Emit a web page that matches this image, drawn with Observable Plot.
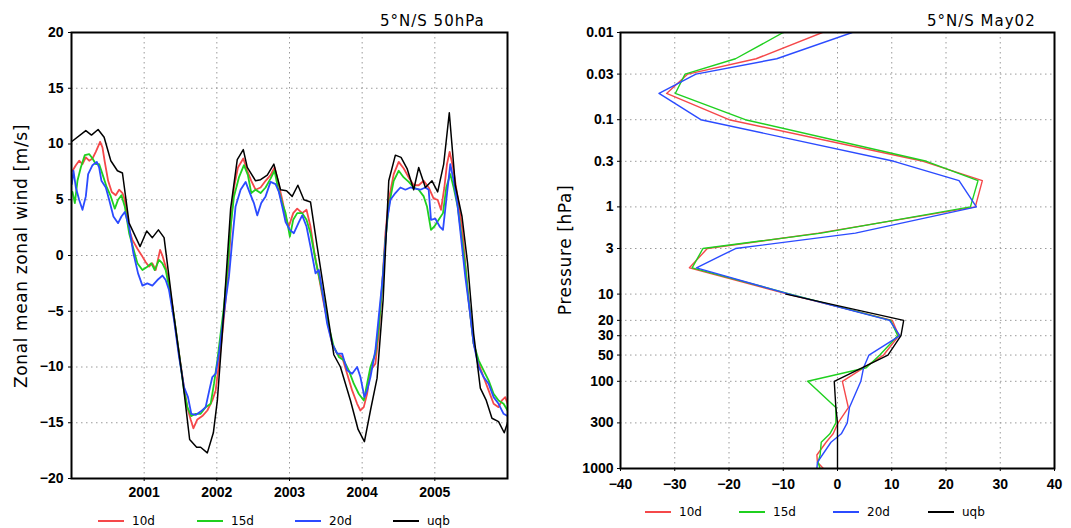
<!DOCTYPE html>
<html><head><meta charset="utf-8">
<script src="https://cdn.jsdelivr.net/npm/d3@7"></script>
<script src="https://cdn.jsdelivr.net/npm/@observablehq/plot@0.6"></script>
<style>
body{margin:0;background:#fff;}
#fig{position:relative;width:1071px;height:528px;overflow:hidden;font-family:"DejaVu Sans",sans-serif;color:#000;}
.panel{position:absolute;top:0;}
.title{position:absolute;font-size:15px;letter-spacing:1px;white-space:nowrap;transform:translateY(-50%);}
.ylab{position:absolute;font-size:17px;letter-spacing:0.6px;white-space:nowrap;transform:translate(-50%,-50%) rotate(-90deg);}
.leg{position:absolute;font-size:12px;white-space:nowrap;transform:translateY(-50%);}
.sw{position:absolute;height:2px;}
</style></head><body><div id="fig"></div>
<script>
// ---------- left panel: 5N/S 50hPa time series (decimal year, m/s) ----------
const yearTicks = [2001, 2002, 2003, 2004, 2005];
const windTicks = [-20, -15, -10, -5, 0, 5, 10, 15, 20];
const ts10d = [[2000.014,7.6],[2000.060,8.1],[2000.105,8.5],[2000.151,8.2],[2000.197,8.8],[2000.243,8.5],[2000.289,8.7],[2000.334,9.3],[2000.394,10.2],[2000.426,9.7],[2000.458,8.4],[2000.504,6.7],[2000.554,5.7],[2000.609,5.4],[2000.655,5.9],[2000.701,5.6],[2000.733,5.0],[2000.793,2.3],[2000.838,1.4],[2000.907,0.6],[2000.976,-0.1],[2001.022,-0.6],[2001.067,-1.0],[2001.113,-0.7],[2001.159,-1.3],[2001.219,0.5],[2001.251,0.0],[2001.296,-1.0],[2001.342,-2.5],[2001.411,-5.5],[2001.480,-8.8],[2001.548,-11.8],[2001.594,-13.6],[2001.640,-14.7],[2001.677,-15.5],[2001.732,-14.7],[2001.800,-14.4],[2001.869,-13.9],[2001.938,-13.0],[2001.984,-12.1],[2002.029,-9.7],[2002.075,-7.0],[2002.121,-4.0],[2002.167,-0.4],[2002.199,3.2],[2002.236,6.1],[2002.291,7.9],[2002.364,8.7],[2002.419,7.6],[2002.474,6.7],[2002.533,5.9],[2002.602,6.1],[2002.671,6.7],[2002.739,7.2],[2002.794,7.9],[2002.840,6.7],[2002.900,5.0],[2002.946,3.5],[2002.991,2.6],[2003.051,3.8],[2003.106,4.2],[2003.175,3.8],[2003.234,4.1],[2003.289,2.6],[2003.344,0.2],[2003.404,-1.9],[2003.463,-4.0],[2003.518,-5.8],[2003.587,-7.9],[2003.656,-8.8],[2003.724,-9.1],[2003.793,-10.6],[2003.862,-12.1],[2003.931,-13.3],[2003.976,-13.9],[2004.022,-13.6],[2004.068,-12.4],[2004.114,-10.3],[2004.182,-9.7],[2004.228,-7.0],[2004.274,-2.8],[2004.320,2.0],[2004.366,5.0],[2004.434,7.3],[2004.503,8.4],[2004.572,7.8],[2004.641,7.0],[2004.709,6.3],[2004.778,6.3],[2004.847,6.7],[2004.915,6.1],[2004.984,5.1],[2005.039,5.0],[2005.085,4.1],[2005.131,6.1],[2005.167,8.2],[2005.204,9.3],[2005.250,7.9],[2005.305,5.6],[2005.374,2.6],[2005.419,-0.7],[2005.465,-4.0],[2005.534,-7.9],[2005.603,-9.7],[2005.671,-10.9],[2005.740,-12.1],[2005.809,-13.3],[2005.877,-13.6],[2005.923,-13.0],[2005.969,-12.7],[2006.001,-13.3]];
const ts15d = [[2000.014,5.7],[2000.046,4.7],[2000.082,6.7],[2000.128,7.9],[2000.183,9.0],[2000.243,9.1],[2000.289,8.7],[2000.334,8.2],[2000.380,8.2],[2000.426,7.3],[2000.486,6.1],[2000.541,5.3],[2000.596,4.2],[2000.641,5.0],[2000.687,5.4],[2000.733,4.4],[2000.793,2.0],[2000.852,0.6],[2000.907,-0.7],[2000.976,-1.3],[2001.044,-1.0],[2001.099,-0.7],[2001.145,-1.3],[2001.205,-0.4],[2001.251,-0.7],[2001.296,-1.3],[2001.342,-2.8],[2001.411,-5.5],[2001.480,-8.8],[2001.548,-12.1],[2001.594,-13.6],[2001.649,-14.4],[2001.709,-14.2],[2001.777,-14.2],[2001.846,-13.6],[2001.915,-13.3],[2001.961,-11.5],[2002.007,-9.4],[2002.052,-7.0],[2002.098,-4.6],[2002.153,-0.7],[2002.190,2.6],[2002.236,5.3],[2002.304,7.0],[2002.373,8.1],[2002.428,7.2],[2002.474,5.6],[2002.533,5.9],[2002.602,5.6],[2002.671,6.1],[2002.739,6.9],[2002.794,7.6],[2002.840,6.1],[2002.900,4.7],[2002.946,3.8],[2003.005,1.7],[2003.051,3.2],[2003.106,3.8],[2003.175,3.8],[2003.234,3.2],[2003.289,2.0],[2003.358,-0.4],[2003.417,-2.2],[2003.472,-4.0],[2003.541,-6.4],[2003.610,-8.2],[2003.679,-9.1],[2003.747,-9.4],[2003.816,-10.3],[2003.885,-11.5],[2003.953,-12.4],[2004.022,-13.0],[2004.068,-11.5],[2004.114,-10.0],[2004.182,-8.8],[2004.228,-6.4],[2004.274,-2.8],[2004.320,1.4],[2004.366,4.4],[2004.434,6.7],[2004.503,7.6],[2004.572,7.0],[2004.641,6.6],[2004.709,6.1],[2004.778,5.9],[2004.847,5.3],[2004.892,4.4],[2004.947,2.3],[2004.993,2.6],[2005.053,3.2],[2005.112,3.8],[2005.158,6.1],[2005.213,7.3],[2005.259,6.1],[2005.314,4.4],[2005.374,1.4],[2005.419,-1.0],[2005.465,-4.0],[2005.534,-7.9],[2005.603,-9.4],[2005.671,-10.3],[2005.740,-11.2],[2005.809,-12.4],[2005.877,-13.0],[2005.946,-13.3],[2006.001,-13.9]];
const ts20d = [[2000.005,6.4],[2000.027,7.6],[2000.060,6.1],[2000.105,5.0],[2000.151,4.1],[2000.197,5.3],[2000.229,7.3],[2000.289,8.1],[2000.348,8.4],[2000.380,7.9],[2000.412,6.7],[2000.472,6.1],[2000.518,5.0],[2000.577,3.5],[2000.641,2.9],[2000.687,3.5],[2000.733,3.9],[2000.793,2.6],[2000.852,0.2],[2000.916,-1.6],[2000.976,-2.7],[2001.044,-2.5],[2001.113,-2.7],[2001.182,-2.2],[2001.251,-1.8],[2001.296,-2.2],[2001.342,-3.1],[2001.411,-5.8],[2001.480,-9.1],[2001.548,-11.8],[2001.603,-12.7],[2001.649,-14.2],[2001.709,-14.3],[2001.777,-14.0],[2001.846,-13.6],[2001.906,-11.8],[2001.938,-10.9],[2001.984,-10.6],[2002.029,-8.8],[2002.075,-6.4],[2002.121,-4.0],[2002.167,-1.9],[2002.213,1.4],[2002.258,4.4],[2002.327,5.9],[2002.396,6.6],[2002.455,5.6],[2002.510,4.7],[2002.556,3.6],[2002.611,4.7],[2002.671,5.3],[2002.739,6.6],[2002.808,6.4],[2002.854,5.7],[2002.900,4.4],[2002.946,3.0],[2003.005,2.3],[2003.060,2.0],[2003.129,3.0],[2003.175,3.6],[2003.234,2.6],[2003.289,0.8],[2003.358,-1.6],[2003.404,-1.3],[2003.449,-3.1],[2003.518,-6.1],[2003.587,-7.9],[2003.656,-8.8],[2003.724,-8.8],[2003.793,-10.3],[2003.862,-10.6],[2003.931,-10.0],[2003.976,-10.9],[2004.031,-12.7],[2004.068,-12.1],[2004.114,-10.9],[2004.182,-8.5],[2004.228,-5.5],[2004.288,-1.6],[2004.343,3.2],[2004.389,5.0],[2004.457,5.6],[2004.526,6.1],[2004.595,5.9],[2004.663,6.1],[2004.732,6.0],[2004.801,5.9],[2004.870,6.1],[2004.915,5.9],[2004.947,3.2],[2005.007,3.3],[2005.067,2.6],[2005.112,2.3],[2005.158,5.0],[2005.213,8.2],[2005.259,6.7],[2005.314,4.4],[2005.374,0.8],[2005.419,-1.9],[2005.479,-4.9],[2005.534,-7.9],[2005.603,-10.0],[2005.671,-10.9],[2005.740,-11.5],[2005.809,-12.7],[2005.877,-13.3],[2005.946,-14.2],[2006.001,-14.4]];
const tsUqb = [[2000.000,10.2],[2000.197,11.2],[2000.275,10.8],[2000.366,11.3],[2000.449,10.6],[2000.541,8.5],[2000.632,7.6],[2000.701,7.4],[2000.793,2.9],[2000.944,0.8],[2001.035,2.2],[2001.113,1.6],[2001.196,2.3],[2001.274,1.6],[2001.411,-5.5],[2001.525,-10.9],[2001.626,-16.5],[2001.722,-17.2],[2001.777,-17.2],[2001.869,-17.7],[2001.952,-15.9],[2002.007,-13.0],[2002.075,-7.0],[2002.190,4.2],[2002.281,8.6],[2002.364,9.5],[2002.419,7.9],[2002.533,6.7],[2002.602,6.8],[2002.694,7.2],[2002.785,8.2],[2002.877,5.9],[2002.959,5.8],[2003.037,5.3],[2003.115,6.3],[2003.198,5.0],[2003.289,4.8],[2003.381,0.8],[2003.495,-4.0],[2003.610,-8.9],[2003.701,-10.0],[2003.839,-13.0],[2003.944,-15.6],[2004.031,-16.7],[2004.114,-13.9],[2004.205,-11.0],[2004.288,-4.0],[2004.366,6.7],[2004.457,9.0],[2004.535,8.8],[2004.618,7.8],[2004.709,5.9],[2004.778,7.9],[2004.870,6.1],[2004.961,6.7],[2005.039,5.7],[2005.122,8.2],[2005.199,12.8],[2005.282,6.3],[2005.374,3.5],[2005.451,-0.7],[2005.534,-7.0],[2005.626,-11.9],[2005.708,-13.0],[2005.786,-14.6],[2005.877,-14.9],[2005.955,-15.9],[2006.001,-15.0]];

// ---------- right panel: profile May 2002 ----------
const pressTicks = [0.01, 0.03, 0.1, 0.3, 1, 3, 10, 20, 30, 50, 100, 300, 1000];
const uTicks = [-40, -30, -20, -10, 0, 10, 20, 30, 40];
const levels = [0.01, 0.02, 0.03, 0.05, 0.1, 0.3, 0.5, 1, 2, 3, 5, 10, 20, 30, 50, 70, 100, 200, 300, 400, 500, 700, 850, 1000];
const prof10d = [-2.8, -15.0, -27.6, -31.5, -20.0, 15.8, 26.7, 25.4, -3.5, -24.0, -27.3, -9.2, 10.1, 11.3, 8.5, 4.8, 0.9, 2.0, 0.1, -0.8, -2.1, -3.8, -3.7, -2.6];
const prof15d = [-10.0, -18.8, -28.1, -29.9, -17.0, 16.4, 25.9, 24.5, -3.0, -24.8, -26.8, -8.7, 9.8, 11.1, 7.8, 5.3, -5.5, -0.3, -0.3, -1.4, -3.0, -3.2, -3.6, -3.2];
const prof20d = [2.7, -11.2, -26.1, -32.9, -25.2, 10.4, 22.4, 25.6, 3.3, -18.8, -26.0, -8.9, 9.6, 11.5, 5.8, 4.8, 4.3, 2.2, 1.8, 0.7, -1.2, -2.8, -3.7, -3.8];
const profUqb = [null, null, null, null, null, null, null, null, null, null, null, -9.5, 12.2, 11.7, 9.3, 4.5, -0.6, -0.3, 0, 0, 0, 0, 0, 0];

const seriesNames = ["10d", "15d", "20d", "uqb"];
const seriesColors = ["#f5484a", "#1fd01f", "#2b4bff", "#000000"];

const fig = document.getElementById("fig");
const gridStyle = {stroke: "#9a9a9a", strokeOpacity: 1, strokeWidth: 1, strokeDasharray: "1.5,3.5"};
const fmtNum = d => d < 0 ? "\u2212" + Math.abs(d) : String(d);
const axisStyle = {fontFamily: "'Liberation Sans', Arial, sans-serif", fontSize: "14px", fontWeight: "bold", background: "transparent", overflow: "visible"};

// left
const tsAll = [ts10d, ts15d, ts20d, tsUqb];
const left = Plot.plot({
  width: 535, height: 528,
  marginTop: 32, marginLeft: 71, marginRight: 28, marginBottom: 50,
  style: axisStyle,
  x: {domain: [2000, 2006]},
  y: {domain: [-20, 20]},
  marks: [
    Plot.gridX(yearTicks, gridStyle),
    Plot.gridY(windTicks, gridStyle),
    ...tsAll.map((s, i) => Plot.line(s, {x: d => d[0], y: d => d[1], stroke: seriesColors[i], strokeWidth: i === 3 ? 1.5 : 1.8, clip: true})),
    Plot.frame({stroke: "#000", strokeWidth: 2}),
    Plot.axisX(yearTicks, {tickSize: 3, tickPadding: 6, tickFormat: d => String(d), label: null}),
    Plot.axisY(windTicks, {tickSize: 3, tickPadding: 5, tickFormat: fmtNum, label: null})
  ]
});
left.classList.add("panel");
left.style.left = "0px";
fig.appendChild(left);

// right
const profAll = [prof10d, prof15d, prof20d, profUqb];
const right = Plot.plot({
  width: 535, height: 528,
  marginTop: 32, marginLeft: 84, marginRight: 17, marginBottom: 60,
  style: axisStyle,
  x: {domain: [-40, 40]},
  y: {type: "log", domain: [0.01, 1000], reverse: true},
  marks: [
    Plot.gridX(uTicks, gridStyle),
    Plot.gridY(pressTicks, gridStyle),
    ...profAll.map((vals, i) => Plot.line(levels.map((p, j) => ({p, u: vals[j]})), {x: "u", y: "p", stroke: seriesColors[i], strokeWidth: 1.4, clip: true})),
    Plot.frame({stroke: "#000", strokeWidth: 2}),
    Plot.axisX(uTicks, {tickSize: 3, tickPadding: 8, tickFormat: fmtNum, label: null}),
    Plot.axisY(pressTicks, {tickSize: 3, tickFormat: () => "", label: null}),
    Plot.text(pressTicks, {y: d => d, frameAnchor: "left", textAnchor: "end", dx: -7, text: d => String(d)})
  ]
});
right.classList.add("panel");
right.style.left = "536px";
fig.appendChild(right);

// texts
function addDiv(cls, text, styles) {
  const d = document.createElement("div");
  d.className = cls;
  d.textContent = text;
  Object.assign(d.style, styles);
  fig.appendChild(d);
  return d;
}
addDiv("title", "5°N/S 50hPa", {left: "380px", top: "21px"});
addDiv("title", "5°N/S May02", {left: "927px", top: "21px"});
addDiv("ylab", "Zonal mean zonal wind [m/s]", {left: "21px", top: "256px"});
addDiv("ylab", "Pressure [hPa]", {left: "565px", top: "250px"});

// legends
const legLeftX = [98, 197, 295, 393];
const legRightX = [645, 739, 833, 928];
function legend(xs, y) {
  seriesNames.forEach((name, i) => {
    const sw = document.createElement("div");
    sw.className = "sw";
    Object.assign(sw.style, {left: xs[i] + "px", top: (y - 1) + "px", width: "26px", background: seriesColors[i]});
    fig.appendChild(sw);
    addDiv("leg", name, {left: (xs[i] + 34) + "px", top: y + "px"});
  });
}
legend(legLeftX, 521);
legend(legRightX, 512);
</script></body></html>
